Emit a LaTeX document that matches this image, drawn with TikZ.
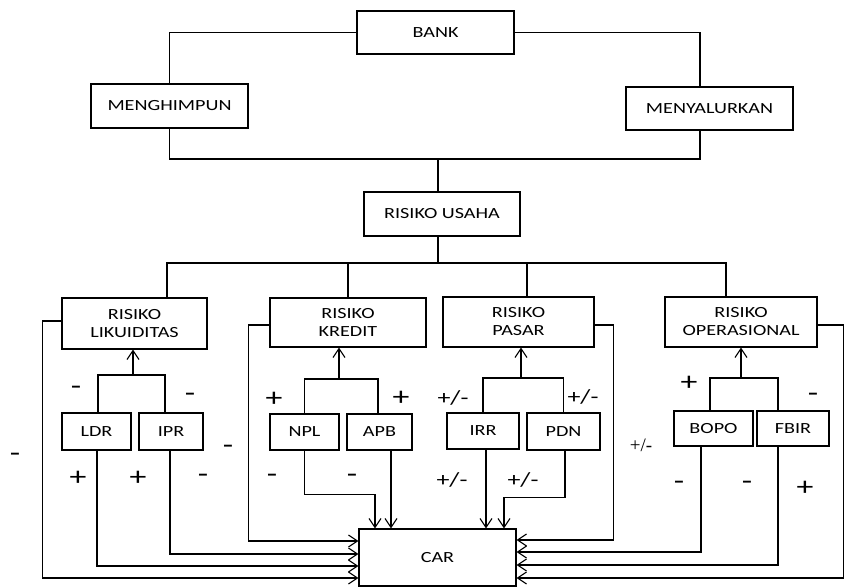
\documentclass[tikz,border=0pt]{standalone}
\usepackage{fontspec}
\setmainfont{Carlito}[FakeStretch=1.3]
\newfontfamily\tipis{Liberation Serif}
\usetikzlibrary{arrows.meta}

\tikzset{
  kotak/.style={draw, line width=1.1pt, align=center, inner sep=0pt, font=\fontsize{15.5}{18}\selectfont},
  garis/.style={line width=1.1pt},
  panah/.style={line width=1.1pt, -{Straight Barb[length=9pt,width=12pt]}},
  tanda/.style={inner sep=0pt, font=\fontsize{26}{26}\selectfont},
  tandapm/.style={inner sep=0pt, font=\fontsize{20}{20}\selectfont},
}

\begin{document}
\begin{tikzpicture}[x=1pt, y=-1pt]
  \useasboundingbox (0,0) rectangle (859,587);
  % top level
  \node[kotak, minimum width=157pt, minimum height=43pt] (bank) at (435.5,32.5) {BANK};
  \node[kotak, minimum width=157pt, minimum height=44pt] (himpun) at (169.5,106) {MENGHIMPUN};
  \node[kotak, minimum width=167pt, minimum height=43pt] (salur) at (709.5,108.5) {MENYALURKAN};
  \node[kotak, minimum width=156pt, minimum height=44pt] (usaha) at (442,214) {RISIKO USAHA};
  \coordinate (kumpul) at (438,159);
  \coordinate (bagi) at (438,263);
  \draw[garis] (bank.west) -| (himpun.north);
  \draw[garis] (bank.east) -| ([xshift=-9.5pt]salur.north);
  \draw[garis] (himpun.south) |- (kumpul) -| ([xshift=-9.5pt]salur.south);
  \draw[garis] (kumpul) -- (kumpul |- usaha.north);
  \draw[garis] (bagi |- usaha.south) -- (bagi);

  % risiko
  \node[kotak, minimum width=145pt, minimum height=51pt] (likuid) at (134.5,323.5) {RISIKO\\LIKUIDITAS};
  \node[kotak, minimum width=156pt, minimum height=49pt] (kredit) at (348,322.5) {RISIKO\\KREDIT};
  \node[kotak, minimum width=151pt, minimum height=50pt] (pasar) at (518.5,322) {RISIKO\\PASAR};
  \node[kotak, minimum width=152pt, minimum height=50pt] (operas) at (741,322) {RISIKO\\OPERASIONAL};
  \draw[garis] ([xshift=32.5pt]likuid.north) |- (bagi) -| ([xshift=-15pt]operas.north);
  \draw[garis] (kredit.north) -- (kredit.north |- bagi);
  \draw[garis] ([xshift=8.5pt]pasar.north) -- ([xshift=8.5pt]pasar.north |- bagi);

  % rasio
  \node[kotak, minimum width=69pt, minimum height=37pt] (ldr) at (96.5,431.5) {LDR};
  \node[kotak, minimum width=64pt, minimum height=37pt] (ipr) at (171,431.5) {IPR};
  \node[kotak, minimum width=69pt, minimum height=36pt] (npl) at (304.5,432) {NPL};
  \node[kotak, minimum width=65pt, minimum height=36pt] (apb) at (379.5,432) {APB};
  \node[kotak, minimum width=72pt, minimum height=36pt] (irr) at (483,431) {IRR};
  \node[kotak, minimum width=73pt, minimum height=37pt] (pdn) at (563.5,431.5) {PDN};
  \node[kotak, minimum width=79pt, minimum height=35pt] (bopo) at (713.5,428.5) {BOPO};
  \node[kotak, minimum width=72pt, minimum height=35pt] (fbir) at (793,428.5) {FBIR};
  \node[kotak, minimum width=157pt, minimum height=57pt] (car) at (437.5,557.5) {CAR};

  % rasio ke risiko
  \coordinate (jlik) at (133,375);
  \coordinate (jkre) at (339,379);
  \coordinate (jpas) at (521,378);
  \coordinate (jope) at (741,378);
  \draw[garis] ([xshift=1.5pt]ldr.north) |- (jlik) -| ([xshift=-6pt]ipr.north);
  \draw[panah] (jlik) -- (jlik |- likuid.south);
  \draw[garis] (npl.north) |- (jkre) -| ([xshift=-1.5pt]apb.north);
  \draw[panah] (jkre) -- (jkre |- kredit.south);
  \draw[garis] (irr.north) |- (jpas) -| (pdn.north);
  \draw[panah] (jpas) -- (jpas |- pasar.south);
  \draw[garis] ([xshift=-3.5pt]bopo.north) |- (jope) -| ([xshift=-15pt]fbir.north);
  \draw[panah] (jope) -- (jope |- operas.south);

  % ke CAR, kiri
  \draw[panah] ([yshift=2.5pt]likuid.west) -- ++(-19,0) |- ([yshift=-20.5pt]car.west);
  \draw[panah] ([xshift=0.5pt]ldr.south) |- ([yshift=-8.5pt]car.west);
  \draw[panah] ([xshift=-1pt]ipr.south) |- ([yshift=3.5pt]car.west);
  \draw[panah] ([yshift=-2.5pt]kredit.west) -- ++(-21,0) |- ([yshift=16.5pt]car.west);
  % ke CAR, atas
  \draw[panah] (npl.south) -- ++(0,44) -| ([xshift=-62.5pt]car.north);
  \draw[panah] ([xshift=11.5pt]apb.south) -- ([xshift=-46.5pt]car.north);
  \draw[panah] ([xshift=3pt]irr.south) -- ([xshift=48.5pt]car.north);
  \draw[panah] ([xshift=1.5pt]pdn.south) -- ++(0,47) -| ([xshift=66.5pt]car.north);
  % ke CAR, kanan
  \draw[panah] ([yshift=-3pt]pasar.east) -- ++(19,0) |- ([yshift=17.5pt]car.east);
  \draw[panah] ([xshift=-12.5pt]bopo.south) |- ([yshift=5.5pt]car.east);
  \draw[panah] ([xshift=-15pt]fbir.south) |- ([yshift=-7.5pt]car.east);
  \draw[panah] ([yshift=-3pt]operas.east) -- ++(26,0) |- ([yshift=-20.5pt]car.east);

  % tanda pengaruh
  \node[tanda] (t1) at (76,390) {-};
  \node[tanda] (t2) at (190,397) {-};
  \node[tanda] (t3) at (15,457) {-};
  \node[tanda] (t4) at (78,478) {+};
  \node[tanda] (t5) at (138,478) {+};
  \node[tanda] (t6) at (203,478) {-};
  \node[tanda] (t7) at (228,449) {-};
  \node[tanda] (t8) at (274,399) {+};
  \node[tanda] (t9) at (401,398) {+};
  \node[tanda] (t10) at (272,478) {-};
  \node[tanda] (t11) at (352,478) {-};
  \node[tandapm] (t12) at (453,398) {+/-};
  \node[tandapm] (t13) at (452,480) {+/-};
  \node[tandapm] (t14) at (523,480) {+/-};
  \node[tandapm] (t15) at (583,397) {+/-};
  \node[inner sep=0pt, font=\tipis\fontsize{19}{19}\selectfont] (t16) at (641,445) {+/-};
  \node[tanda] (t17) at (689,383) {+};
  \node[tanda] (t18) at (813,397) {-};
  \node[tanda] (t19) at (679,485) {-};
  \node[tanda] (t20) at (747,485) {-};
  \node[tanda] (t21) at (805,488) {+};
\end{tikzpicture}
\end{document}
